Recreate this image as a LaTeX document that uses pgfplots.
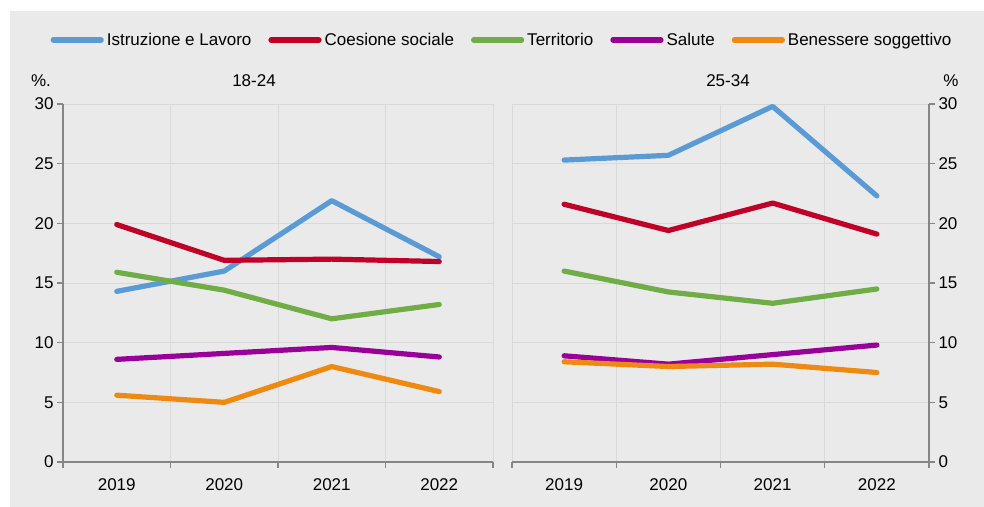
\documentclass[border=0pt]{standalone}
\usepackage{pgfplots}
\pgfplotsset{compat=1.18}
\usepackage{fontspec}
\setmainfont{Liberation Sans}

\definecolor{bg}{HTML}{EAEAEA}
\definecolor{cIst}{HTML}{5B9BD5}
\definecolor{cCoe}{HTML}{C00027}
\definecolor{cTer}{HTML}{70AD47}
\definecolor{cSal}{HTML}{990099}
\definecolor{cBen}{HTML}{EE8A12}
\definecolor{axc}{HTML}{868686}
\definecolor{grd}{HTML}{D9D9D9}

\newcommand{\fs}{\fontsize{17bp}{20bp}\selectfont}

\pgfplotsset{
  panel/.style={
    height=358bp, scale only axis,
    xmin=0.5, xmax=4.5, ymin=0, ymax=30,
    xtick={1,2,3,4}, xticklabels={2019,2020,2021,2022},
    major x tick style={draw=none},
    minor xtick={0.5,1.5,2.5,3.5,4.5},
    xminorgrids, minor grid style={grd, line width=1bp},
    ytick={0,5,...,30}, ymajorgrids, major grid style={grd, line width=1bp},
    axis line style={axc, line width=1.5bp},
    tick style={axc, line width=1.2bp},
    tick align=outside, major tick length=6bp, minor tick length=6bp,
    tick label style={font=\fs},
    xticklabel style={yshift=-7bp},
    /pgf/number format/assume math mode=true,
    axis x line*=bottom,
    every axis plot/.append style={line width=5.2bp, line cap=round, line join=round},
  },
}

\begin{document}
\begin{tikzpicture}
\useasboundingbox (0,0) rectangle (984bp,-507bp);
\fill[bg] (10bp,-11bp) rectangle (984bp,-507bp);

% 18-24
\begin{axis}[panel, at={(63bp,-462bp)}, anchor=south west, width=430bp,
  axis y line*=left,
  legend columns=5,
  legend style={at={(1.021,1.179)}, anchor=center, draw=none, fill=none, font=\fs,
    /tikz/every even column/.append style={column sep=15bp},
    /tikz/every odd column/.append style={column sep=1bp}},
  legend image code/.code={\draw[line width=5.2bp, line cap=round] (0bp,0bp) -- (48bp,0bp);},
]
\addplot[cIst] coordinates {(1,14.3) (2,16.0) (3,21.9) (4,17.2)};
\addlegendentry{Istruzione e Lavoro}
\addplot[cCoe] coordinates {(1,19.9) (2,16.9) (3,17.0) (4,16.8)};
\addlegendentry{Coesione sociale}
\addplot[cTer] coordinates {(1,15.9) (2,14.4) (3,12.0) (4,13.2)};
\addlegendentry{Territorio}
\addplot[cSal] coordinates {(1,8.6) (2,9.1) (3,9.6) (4,8.8)};
\addlegendentry{Salute}
\addplot[cBen] coordinates {(1,5.6) (2,5.0) (3,8.0) (4,5.9)};
\addlegendentry{Benessere soggettivo}
\end{axis}

% 25-34
\begin{axis}[panel, at={(512bp,-462bp)}, anchor=south west, width=417bp,
  axis y line*=right, yticklabel pos=right,
]
\addplot[cIst] coordinates {(1,25.3) (2,25.7) (3,29.8) (4,22.3)};
\addplot[cCoe] coordinates {(1,21.6) (2,19.4) (3,21.7) (4,19.1)};
\addplot[cTer] coordinates {(1,16.0) (2,14.25) (3,13.3) (4,14.5)};
\addplot[cSal] coordinates {(1,8.9) (2,8.2) (3,9.0) (4,9.8)};
\addplot[cBen] coordinates {(1,8.4) (2,8.0) (3,8.2) (4,7.5)};
\end{axis}

\node[font=\fs] at (41bp,-81bp) {\%.};
\node[font=\fs] at (254bp,-81bp) {18-24};
\node[font=\fs] at (728bp,-81bp) {25-34};
\node[font=\fs] at (951bp,-81bp) {\%};
\end{tikzpicture}
\end{document}
